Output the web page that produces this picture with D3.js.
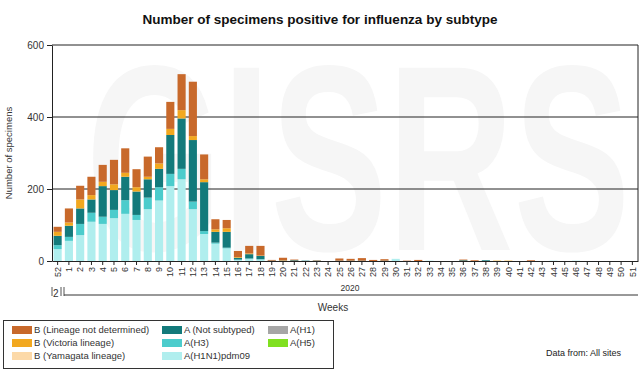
<!DOCTYPE html>
<html>
<head>
<meta charset="utf-8">
<script src="https://cdn.jsdelivr.net/npm/d3@7"></script>
<style>
  body { margin: 0; background: #fff; }
  svg { font-family: "Liberation Sans", Arial, sans-serif; }
</style>
</head>
<body>
<div id="chart"></div>
<script>
// weeks: 52 of 2019, then 1..51 of 2020
var weeks = ["52"].concat(d3.range(1, 52).map(String));

// series values, one per week
var h1n1pdm09 = [33, 56, 72, 109, 103, 119, 131, 114, 144, 168, 208, 227, 144, 75, 48, 35, 3, 6, 4, 0, 0, 0, 0, 0, 0, 0, 0, 0, 0, 0, 6, 0, 0, 1, 0, 0, 0, 0, 0, 0, 0, 0, 0, 0, 1, 0, 1, 0, 0, 0, 0, 0];
var h3 = [11, 11, 31, 25, 20, 23, 38, 14, 32, 37, 34, 29, 21, 8, 3, 2, 1, 1, 1, 0, 0, 0, 0, 0, 0, 0, 0, 0, 0, 0, 0, 0, 0, 0, 0, 0, 0, 0, 0, 0, 0, 0, 0, 0, 0, 0, 0, 0, 0, 0, 0, 0];
var h1 = d3.range(52).map(function () { return 0; });
var notSubtyped = [26, 31, 43, 37, 85, 55, 65, 65, 51, 51, 108, 140, 171, 136, 30, 44, 5, 12, 9, 1, 1, 2, 1, 1, 0, 1, 1, 1, 0, 1, 0, 0, 0, 0, 0, 0, 2, 0, 2, 0, 0, 0, 0, 0, 0, 0, 0, 0, 0, 0, 0, 0];
var h5 = d3.range(52).map(function () { return 0; });
var yamagata = d3.range(52).map(function () { return 0; });
var victoria = [11, 9, 25, 12, 12, 16, 11, 12, 7, 15, 17, 23, 11, 8, 7, 10, 2, 2, 1, 0, 1, 0, 0, 0, 0, 0, 0, 0, 0, 0, 0, 0, 0, 0, 0, 0, 0, 0, 0, 1, 1, 0, 0, 0, 0, 0, 0, 0, 0, 0, 0, 0];
var lineageND = [14, 39, 38, 51, 47, 68, 68, 50, 56, 45, 75, 100, 151, 69, 28, 23, 17, 21, 27, 2, 7, 2, 0, 1, 0, 6, 5, 7, 3, 4, 0, 1, 3, 0, 0, 0, 2, 2, 0, 0, 0, 0, 2, 0, 0, 0, 0, 0, 0, 0, 0, 0];

var yTicks = [0, 200, 400, 600];

var seriesNames = ["A(H1N1)pdm09", "A(H3)", "A(H1)", "A (Not subtyped)", "A(H5)",
  "B (Yamagata lineage)", "B (Victoria lineage)", "B (Lineage not determined)"];
var seriesValues = [h1n1pdm09, h3, h1, notSubtyped, h5, yamagata, victoria, lineageND];
var seriesColors = ["#b0eeee", "#4ccccc", "#a6a6a6", "#137a7b", "#80e020",
  "#fcd9a8", "#f2a81f", "#c8692b"];

// legend layout order (column by column)
var legendOrder = [
  "B (Lineage not determined)", "B (Victoria lineage)", "B (Yamagata lineage)",
  "A (Not subtyped)", "A(H3)", "A(H1N1)pdm09",
  "A(H1)", "A(H5)"
];

var W = 640, H = 372;
var margin = {top: 45, right: 2, bottom: 111, left: 52},
    width = W - margin.left - margin.right,
    height = H - margin.top - margin.bottom;

var svg = d3.select("#chart")
    .append("svg")
    .attr("width", W)
    .attr("height", H);

// watermark, squeezed sideways
svg.append("text")
    .attr("transform", "translate(86,250) scale(0.66,1)")
    .style("font-size", "265px")
    .style("font-weight", "bold")
    .style("fill", "#f6f6f6")
    .text("GISRS");

// title
svg.append("text")
    .attr("x", 320)
    .attr("y", 24)
    .attr("text-anchor", "middle")
    .style("font-size", "13.5px")
    .style("font-weight", "bold")
    .style("fill", "#111")
    .text("Number of specimens positive for influenza by subtype");

var g = svg.append("g")
    .attr("transform", "translate(" + margin.left + "," + margin.top + ")");

var x = d3.scaleBand()
    .domain(weeks)
    .range([0, width])
    .paddingInner(0.28)
    .paddingOuter(0.14);

var y = d3.scaleLinear()
    .domain([0, 600])
    .range([height, 0]);

// build the stack
var table = weeks.map(function (w, i) {
  var row = {week: w};
  seriesNames.forEach(function (s, k) { row[s] = seriesValues[k][i]; });
  return row;
});
var stacked = d3.stack().keys(seriesNames)(table);

// grid lines
g.append("g")
    .selectAll("line")
    .data(yTicks.slice(1))
    .enter()
    .append("line")
    .attr("x1", 0)
    .attr("x2", width)
    .attr("y1", function (d) { return y(d); })
    .attr("y2", function (d) { return y(d); })
    .style("stroke", "#222")
    .style("stroke-width", 1);

// bars
g.append("g")
    .selectAll("g")
    .data(stacked)
    .enter()
    .append("g")
    .style("fill", function (d, i) { return seriesColors[i]; })
    .selectAll("rect")
    .data(function (d) { return d; })
    .enter()
    .append("rect")
    .attr("x", function (d) { return x(d.data.week); })
    .attr("y", function (d) { return y(d[1]); })
    .attr("width", x.bandwidth())
    .attr("height", function (d) { return y(d[0]) - y(d[1]); });

// y axis
var yAxis = g.append("g")
    .call(d3.axisLeft(y).tickValues(yTicks).tickSize(5).tickSizeOuter(0));
yAxis.select(".domain").style("stroke", "#222");
yAxis.selectAll("line").style("stroke", "#222");
yAxis.selectAll("text")
    .style("font-size", "10px")
    .style("fill", "#333");

// right border
g.append("line")
    .attr("x1", width).attr("x2", width)
    .attr("y1", 0).attr("y2", height)
    .style("stroke", "#222");

// x axis
var xAxis = g.append("g")
    .attr("transform", "translate(0," + height + ")")
    .call(d3.axisBottom(x).tickSize(4).tickSizeOuter(0));
xAxis.select(".domain").style("stroke", "#222");
xAxis.selectAll("line").style("stroke", "#222");
xAxis.selectAll("text")
    .attr("transform", "rotate(-90)")
    .attr("x", -6)
    .attr("y", 0)
    .attr("dy", "0.35em")
    .style("text-anchor", "end")
    .style("font-size", "9px")
    .style("fill", "#333");

// year brackets
var yearY = 295;
svg.append("line")
    .attr("x1", 52).attr("x2", 52).attr("y1", 287).attr("y2", 296)
    .style("stroke", "#555");
svg.append("text")
    .attr("x", 53).attr("y", 297)
    .style("font-size", "10px").style("fill", "#333")
    .text("2");
svg.append("line")
    .attr("x1", 61).attr("x2", 61).attr("y1", 287).attr("y2", 296)
    .style("stroke", "#555");
svg.append("line")
    .attr("x1", 64).attr("x2", 64).attr("y1", 287).attr("y2", 296)
    .style("stroke", "#555");
svg.append("line")
    .attr("x1", 64).attr("x2", margin.left + width).attr("y1", yearY).attr("y2", yearY)
    .style("stroke", "#333");
svg.append("text")
    .attr("x", 350).attr("y", 291)
    .attr("text-anchor", "middle")
    .style("font-size", "8.5px").style("fill", "#333")
    .text("2020");

// axis titles
svg.append("text")
    .attr("x", 333).attr("y", 311)
    .attr("text-anchor", "middle")
    .style("font-size", "10px").style("fill", "#333")
    .text("Weeks");

svg.append("text")
    .attr("transform", "translate(12," + (margin.top + height / 2) + ") rotate(-90)")
    .attr("text-anchor", "middle")
    .style("font-size", "9.5px").style("fill", "#333")
    .text("Number of specimens");

// legend
svg.append("rect")
    .attr("x", 3.5).attr("y", 320.5)
    .attr("width", 330).attr("height", 48)
    .style("fill", "#fff")
    .style("stroke", "#333");

var colX = [12, 162, 268], rowY = [330, 343, 356];
var legend = svg.append("g")
    .selectAll("g")
    .data(legendOrder)
    .enter()
    .append("g")
    .attr("transform", function (d, i) {
      return "translate(" + colX[Math.floor(i / 3)] + "," + rowY[i % 3] + ")";
    });
legend.append("rect")
    .attr("x", 0).attr("y", -4)
    .attr("width", 20).attr("height", 8)
    .style("fill", function (d) { return seriesColors[seriesNames.indexOf(d)]; });
legend.append("text")
    .attr("x", 22).attr("y", 0)
    .attr("dy", "0.35em")
    .style("font-size", "9.5px").style("fill", "#333")
    .text(function (d) { return d; });

svg.append("text")
    .attr("x", 546).attr("y", 356)
    .style("font-size", "9px").style("fill", "#222")
    .text("Data from: All sites");
</script>
</body>
</html>
